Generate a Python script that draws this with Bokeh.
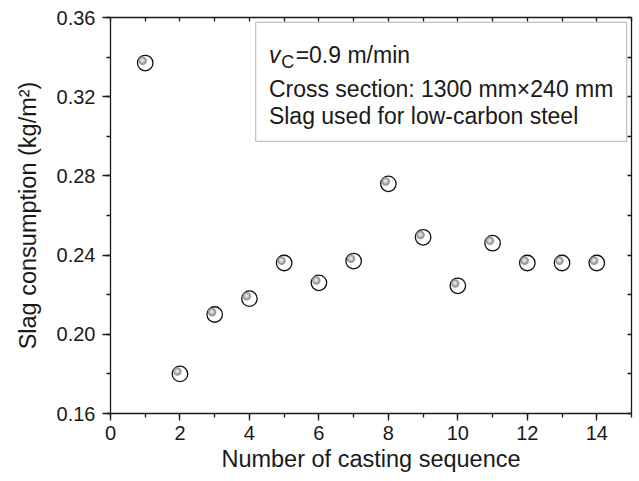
from bokeh.plotting import figure
from bokeh.models import (LinearAxis, SingleIntervalTicker, FixedTicker, PrintfTickFormatter,
                          BoxAnnotation, Label, ColumnDataSource, Range1d)
from bokeh.transform import dodge
from bokeh.embed import file_html
from bokeh.resources import INLINE

# ---- data ----
sequence = [1, 2, 3, 4, 5, 6, 7, 8, 9, 10, 11, 12, 13, 14]
slag_consumption = [0.337, 0.180, 0.210, 0.218, 0.236, 0.226, 0.237,
                    0.276, 0.249, 0.2245, 0.246, 0.236, 0.236, 0.236]

# inward tick positions of the top / right frame edges
top_ticks = [0, 1, 2, 3, 4, 5, 6, 7, 8, 9, 10, 11, 12, 13, 14, 15]
right_ticks = [0.16, 0.18, 0.20, 0.22, 0.24, 0.26, 0.28, 0.30, 0.32, 0.34, 0.36]

x_label = "Number of casting sequence"
y_label = "Slag consumption (kg/m\u00b2)"
note_line1_v = "v"
note_line1_sub = "C"
note_line1_rest = "=0.9 m/min"
note_line2 = "Cross section: 1300 mm\u00d7240 mm"
note_line3 = "Slag used for low-carbon steel"

FONT = "Liberation Sans"
INK = "#1a1a1a"

p = figure(width=639, height=481, output_backend="svg", toolbar_location=None,
           x_range=Range1d(0, 15), y_range=Range1d(0.16, 0.36),
           min_border_left=110, min_border_right=8, min_border_top=17,
           min_border_bottom=68)
p.grid.visible = False
p.outline_line_color = None
p.background_fill_color = "white"
p.border_fill_color = "white"

# bottom axis
xa = p.xaxis[0]
xa.ticker = SingleIntervalTicker(interval=2, num_minor_ticks=2)
xa.axis_label = x_label
# left axis
ya = p.yaxis[0]
ya.ticker = SingleIntervalTicker(interval=0.04, num_minor_ticks=2)
ya.formatter = PrintfTickFormatter(format="%.2f")
ya.axis_label = y_label

for ax in (xa, ya):
    ax.axis_line_color = INK
    ax.axis_line_width = 1.3
    ax.major_tick_line_color = INK
    ax.minor_tick_line_color = INK
    ax.major_tick_line_width = 1.3
    ax.minor_tick_line_width = 1.3
    ax.major_tick_in = 0
    ax.minor_tick_in = 0
    ax.major_label_text_font = FONT
    ax.major_label_text_font_size = "20px"
    ax.major_label_text_color = INK
    ax.axis_label_text_font = FONT
    ax.axis_label_text_font_size = "23.5px"
    ax.axis_label_text_font_style = "normal"
    ax.axis_label_text_color = INK
xa.major_tick_out = 7
xa.minor_tick_out = 4
xa.major_label_standoff = 5
xa.axis_label_standoff = 3
ya.major_tick_out = 8
ya.minor_tick_out = 4
ya.major_label_standoff = 7
ya.axis_label_standoff = 13

# top / right frame edges with inward ticks only (no labels)
top = LinearAxis(ticker=FixedTicker(ticks=[], minor_ticks=top_ticks),
                 major_tick_in=0, major_tick_out=0, minor_tick_in=4, minor_tick_out=0,
                 axis_line_color=INK, axis_line_width=1.3,
                 minor_tick_line_color=INK, minor_tick_line_width=1.3)
right = LinearAxis(ticker=FixedTicker(ticks=[], minor_ticks=right_ticks),
                   major_tick_in=0, major_tick_out=0, minor_tick_in=4, minor_tick_out=0,
                   axis_line_color=INK, axis_line_width=1.3,
                   minor_tick_line_color=INK, minor_tick_line_width=1.3)
p.add_layout(top, "above")
p.add_layout(right, "right")

src = ColumnDataSource(dict(seq=sequence, slag=slag_consumption))
p.scatter("seq", "slag", source=src, size=15.5, fill_color=None,
          line_color="#111111", line_width=1.3)
p.scatter(x=dodge("seq", -0.075, range=p.x_range), y=dodge("slag", 0.0012, range=p.y_range),
          source=src, size=8.5, fill_color="#9a9a9a", line_color=None)
p.scatter(x=dodge("seq", -0.08, range=p.x_range), y=dodge("slag", 0.0013, range=p.y_range),
          source=src, size=5, fill_color="#c6c6c6", line_color=None)
p.scatter(x=dodge("seq", -0.085, range=p.x_range), y=dodge("slag", 0.0014, range=p.y_range),
          source=src, size=2.5, fill_color="#ececec", line_color=None)

# note box
p.add_layout(BoxAnnotation(left=4.18, right=14.86, top=0.3575, bottom=0.2974,
                           fill_color="white", fill_alpha=1.0,
                           line_color="#333333", line_width=1.2))
common = dict(text_font=FONT, text_color=INK, text_baseline="alphabetic",
              text_align="left")
p.add_layout(Label(x=4.56, y=0.3413, text=note_line1_v, text_font_size="23px",
                   text_font_style="italic", **common))
p.add_layout(Label(x=4.917, y=0.3376, text=note_line1_sub, text_font_size="18px", **common))
p.add_layout(Label(x=5.33, y=0.3413, text=note_line1_rest, text_font_size="23px", **common))
p.add_layout(Label(x=4.56, y=0.3237, text=note_line2, text_font_size="23px", **common))
p.add_layout(Label(x=4.56, y=0.3105, text=note_line3, text_font_size="23px", **common))

open("out.html", "w").write(file_html(p, INLINE))
